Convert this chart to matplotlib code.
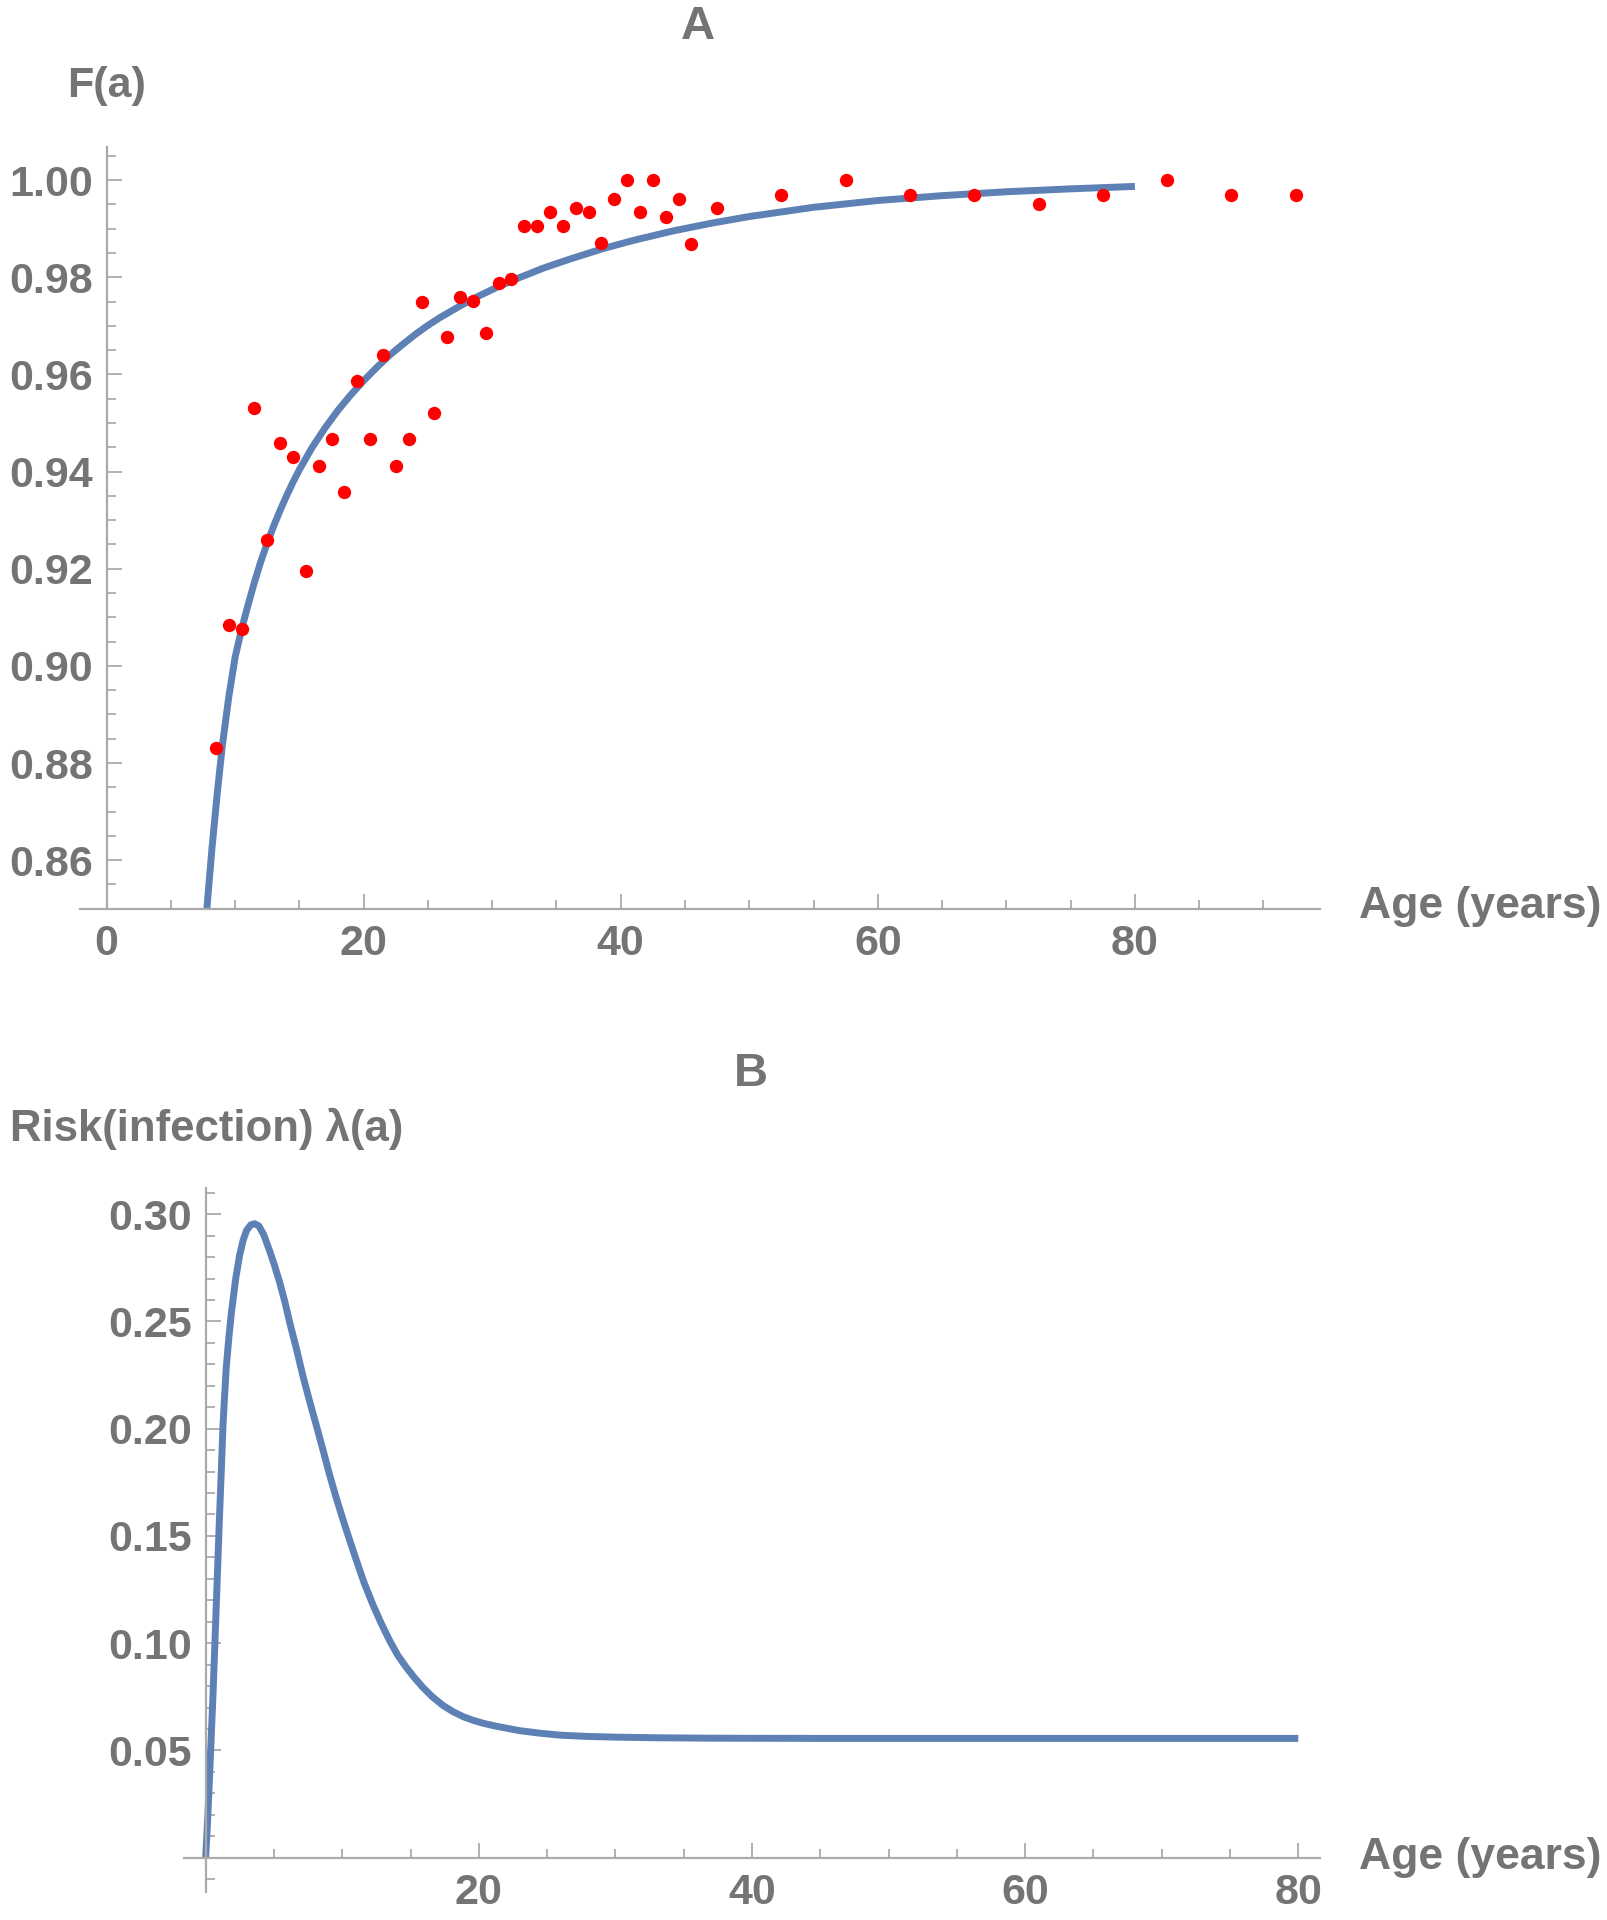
import matplotlib
matplotlib.use("Agg")
import matplotlib.pyplot as plt
from matplotlib.ticker import MultipleLocator, FixedLocator, FuncFormatter

# ---------------- data ----------------
# Panel A: observed seroprevalence by age
obs_age = [8.5, 9.5, 10.5, 11.5, 12.5, 13.5, 14.5, 15.5, 16.5, 17.5, 18.5, 19.5,
           20.5, 21.5, 22.5, 23.5, 24.5, 25.5, 26.5, 27.5, 28.5, 29.5, 30.5, 31.5,
           32.5, 33.5, 34.5, 35.5, 36.5, 37.5, 38.5, 39.5, 40.5, 41.5, 42.5, 43.5,
           44.5, 45.5, 47.5, 52.5, 57.5, 62.5, 67.5, 72.5, 77.5, 82.5, 87.5, 92.5]
obs_F = [0.883, 0.9085, 0.9076, 0.9531, 0.926, 0.9458, 0.943, 0.9195, 0.9411, 0.9467,
         0.9357, 0.9586, 0.9467, 0.964, 0.9411, 0.9467, 0.975, 0.9521, 0.9677, 0.976,
         0.9751, 0.9686, 0.9789, 0.9796, 0.9906, 0.9906, 0.9934, 0.9906, 0.9943, 0.9934,
         0.987, 0.9961, 1.0, 0.9934, 1.0, 0.9925, 0.9961, 0.9868, 0.9943, 0.997,
         1.0, 0.997, 0.997, 0.995, 0.997, 1.0, 0.997, 0.997]

# Panel A: fitted F(a) curve
fit_age = [7.8, 8.2, 8.6, 9.0, 9.5, 10.0, 10.5, 11.0, 11.5, 12.0, 12.5, 13.0, 13.5,
           14.0, 14.5, 15.0, 16.0, 17.0, 18.0, 19.0, 20.0, 21.0, 22.0, 23.0, 24.0,
           25.0, 26.0, 27.5, 29.0, 30.5, 32.0, 34.0, 36.0, 38.5, 41.0, 44.0, 47.0,
           50.0, 55.0, 60.0, 65.0, 70.0, 75.0, 80.0]
fit_F = [0.850, 0.8625, 0.8735, 0.8835, 0.8935, 0.9018, 0.9075, 0.9125, 0.9172, 0.9215,
         0.9253, 0.9288, 0.9320, 0.9350, 0.9378, 0.9404, 0.9450, 0.9490, 0.9526, 0.9558,
         0.9587, 0.9614, 0.9639, 0.9661, 0.9682, 0.9701, 0.9718, 0.9741, 0.9762, 0.9781,
         0.9798, 0.9819, 0.9837, 0.9858, 0.9876, 0.9895, 0.9911, 0.9925, 0.9944, 0.9958,
         0.9968, 0.9976, 0.9982, 0.9987]

# Panel B: force of infection lambda(a)
lam_age = [0.0, 0.15, 0.29, 0.42, 0.54, 0.66, 0.78, 0.9, 1.02, 1.15, 1.27, 1.39, 1.51,
           1.7, 1.88, 2.2, 2.49, 2.75, 3.0, 3.3, 3.59, 3.9, 4.25, 4.68, 5.05, 5.41,
           5.8, 6.15, 6.65, 7.12, 7.6, 8.1, 8.6, 9.07, 9.55, 10.05, 10.55, 11.02, 11.6,
           12.24, 12.85, 13.46, 14.05, 14.68, 15.3, 15.9, 16.6, 17.37, 18.1, 18.83,
           19.55, 20.3, 21.1, 22.0, 23.0, 24.5, 26.0, 28.0, 30.0, 33.0, 37.0, 45.0,
           55.0, 65.0, 80.0]
lam_val = [0.0, 0.018, 0.0386, 0.058, 0.0762, 0.097, 0.118, 0.139, 0.160, 0.181,
           0.2016, 0.2155, 0.2287, 0.2425, 0.2538, 0.2700, 0.2810, 0.2880, 0.2925,
           0.2950, 0.2956, 0.2945, 0.2905, 0.2830, 0.2760, 0.2684, 0.2592, 0.2496,
           0.2372, 0.2246, 0.2131, 0.2016, 0.1899, 0.1786, 0.1680, 0.1577, 0.1479,
           0.1389, 0.1282, 0.1180, 0.1093, 0.1013, 0.0945, 0.0888, 0.0838, 0.0794,
           0.0750, 0.0710, 0.0681, 0.0658, 0.0641, 0.0627, 0.0615, 0.0604, 0.0592,
           0.0580, 0.0571, 0.0565, 0.0562, 0.0559, 0.0557, 0.0556, 0.0556, 0.0556,
           0.0556]

xticks_A = [0, 20, 40, 60, 80]
yticks_A = [0.86, 0.88, 0.90, 0.92, 0.94, 0.96, 0.98, 1.00]
xticks_B = [20, 40, 60, 80]
yticks_B = [0.05, 0.10, 0.15, 0.20, 0.25, 0.30]

# ---------------- style ----------------
TXT = "#747474"
AX = "#aaaaaa"
LINE = "#5e81b5"
FONT = ["Liberation Sans", "DejaVu Sans"]
plt.rcParams["font.family"] = FONT
plt.rcParams["font.weight"] = "bold"

fig = plt.figure(figsize=(16.08, 19.2), dpi=100)

def style_axes(ax, x0, y0):
    for s in ["top", "right"]:
        ax.spines[s].set_visible(False)
    ax.spines["left"].set_position(("data", x0))
    ax.spines["bottom"].set_position(("data", y0))
    for s in ["left", "bottom"]:
        ax.spines[s].set_color(AX)
        ax.spines[s].set_linewidth(1.6)
    ax.tick_params(which="both", direction="in", color=AX, width=1.3,
                   labelcolor=TXT, labelsize=31)
    ax.tick_params(which="major", length=10.5)
    ax.tick_params(which="minor", length=6.5)
    ax.tick_params(axis="x", pad=11)
    ax.tick_params(axis="y", pad=10)
    for lab in ax.get_xticklabels() + ax.get_yticklabels():
        lab.set_fontweight("bold")

# ---------------- Panel A ----------------
axA = fig.add_axes([0.0495, 0.5267, 0.7714, 0.9234 - 0.5267])
axA.plot(fit_age, fit_F, color=LINE, lw=5.0, solid_capstyle="butt",
         solid_joinstyle="round", zorder=2)
axA.plot(obs_age, obs_F, "o", color="#ff0000", ms=9.6, mec="none", zorder=3,
         clip_on=False)
axA.set_xlim(-2.1, 94.4)
axA.set_ylim(0.85, 1.0068)
axA.xaxis.set_major_locator(FixedLocator(xticks_A))
axA.xaxis.set_minor_locator(MultipleLocator(5))
axA.yaxis.set_major_locator(FixedLocator(yticks_A))
axA.yaxis.set_minor_locator(MultipleLocator(0.005))
axA.yaxis.set_major_formatter(FuncFormatter(lambda v, p: f"{v:.2f}"))
axA.xaxis.set_major_formatter(FuncFormatter(lambda v, p: f"{v:.0f}"))
style_axes(axA, 0, 0.85)

# ---------------- Panel B ----------------
axB = fig.add_axes([0.1143, 0.0146, 0.7067, 0.381 - 0.0146])
axB.plot(lam_age, lam_val, color=LINE, lw=5.0, solid_capstyle="butt",
         solid_joinstyle="round", zorder=2)
axB.set_xlim(-1.6, 81.6)
axB.set_ylim(-0.016, 0.312)
axB.xaxis.set_major_locator(FixedLocator(xticks_B))
axB.xaxis.set_minor_locator(MultipleLocator(5))
axB.yaxis.set_major_locator(FixedLocator(yticks_B))
axB.yaxis.set_minor_locator(MultipleLocator(0.01))
axB.yaxis.set_major_formatter(FuncFormatter(lambda v, p: f"{v:.2f}"))
axB.xaxis.set_major_formatter(FuncFormatter(lambda v, p: f"{v:.0f}"))
style_axes(axB, 0, 0)

# ---------------- labels ----------------
fig.text(0.434, 0.986, "A", ha="center", va="center", fontsize=34,
         color=TXT, fontweight="bold")
fig.text(0.0415, 0.955, "F(a)", ha="left", va="center", fontsize=31,
         color=TXT, fontweight="bold")
fig.text(0.845, 0.528, "Age (years)", ha="left", va="center", fontsize=32,
         color=TXT, fontweight="bold")
fig.text(0.467, 0.4406, "B", ha="center", va="center", fontsize=34,
         color=TXT, fontweight="bold")
fig.text(0.006, 0.412, "Risk(infection) λ(a)", ha="left", va="center", fontsize=31.5,
         color=TXT, fontweight="bold")
fig.text(0.845, 0.0323, "Age (years)", ha="left", va="center", fontsize=32,
         color=TXT, fontweight="bold")

fig.savefig("out.png", dpi=100, facecolor="white")
